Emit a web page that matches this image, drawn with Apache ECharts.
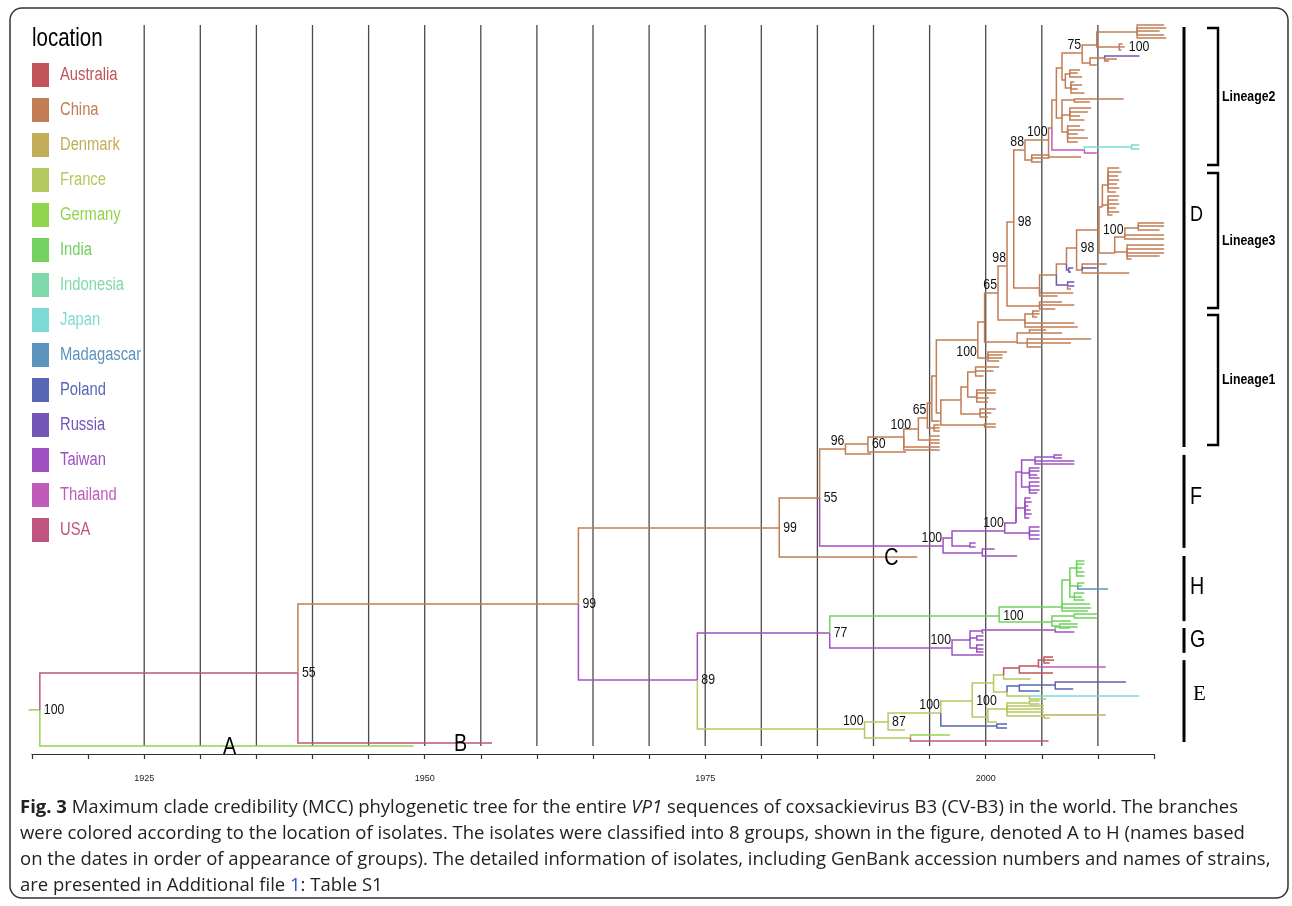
<!DOCTYPE html>
<html>
<head>
<meta charset="utf-8">
<title>MCC tree CV-B3 VP1</title>
<script src="https://cdn.jsdelivr.net/npm/echarts@6/dist/echarts.min.js"></script>
<style>
html,body{margin:0;padding:0;background:#fff}
#mccTree{width:1292px;height:906px}
</style>
</head>
<body>
<div id="mccTree"></div>
<script>
var SANS = "'Liberation Sans',Arial,sans-serif";
var NARROW_SCALE = 0.82; // the figure uses a narrow Arial-like face

// legend: location of isolates
var locations = ['Australia','China','Denmark','France','Germany','India','Indonesia','Japan','Madagascar','Poland','Russia','Taiwan','Thailand','USA'];
var locCodes  = ['AU','CN','DK','FR','DE','IN','ID','JP','MG','PL','RU','TW','TH','US'];
var locColors = ['#c1545a','#c27d56','#c3ad5b','#b4c95f','#91d54f','#72d15f','#7fd9ab','#7edad5','#5b94bd','#5767b6','#7356b5','#9f51c1','#bf5bb9','#bd557f'];

// time axis
var gridYears = [1925,1930,1935,1940,1945,1950,1955,1960,1965,1970,1975,1980,1985,1990,1995,2000,2005,2010];
var tickLabelYears = [1925,1950,1975,2000];

// tree nodes: [id, parent, year, row, location]  (row 0 = top tip)
var treeNodes = [
  ['pre', null, 1914.7, 228.3, 'DE'],
  ['root','pre', 1915.7, 228.3, 'DE'],
  ['tA','root', 1949.0, 240.3, 'DE'],
  ['n55a','root', 1938.7, 216, 'US'],
  ['tB','n55a', 1956.0, 239.3, 'US'],
  ['n99a','n55a', 1963.7, 193, 'CN'],
  ['n89','n99a', 1974.3, 218.3, 'TW'],
  ['n99b','n99a', 1981.6, 167.7, 'CN'],
  ['tC','n99b', 1993.9, 177.3, 'CN'],
  ['n55b','n99b', 1985.2, 157.7, 'CN'],
  ['F100','n55b', 1996.2, 173.7, 'TW'],
  ['n96','n55b', 1987.5, 141.3, 'CN'],
  ['n60','n96', 1989.5, 139.7, 'CN'],
  ['n100e','n60', 1992.7, 137.3, 'CN'],
  ['n119','n100e', 1994.0, 134.7, 'CN'],
  ['k1','n119', 1995.0, 138.3, 'CN'],
  ['n65a','n119', 1994.8, 131, 'CN'],
  ['k2','n65a', 1995.4, 134.3, 'CN'],
  ['nP','n65a', 1995.2, 126, 'CN'],
  ['nQ','nP', 1995.6, 117, 'CN'],
  ['nR','nQ', 1996.0, 129.3, 'CN'],
  ['nS','nR', 1997.8, 125, 'CN'],
  ['nV','nR', 1999.9, 133.3, 'CN'],
  ['nT','nS', 1998.4, 120.7, 'CN'],
  ['nW','nS', 1999.5, 129.7, 'CN'],
  ['nT1','nT', 1999.1, 115.7, 'CN'],
  ['nT2','nT', 1999.2, 124, 'CN'],
  ['nX','nQ', 1999.3, 105, 'CN'],
  ['nY','nX', 2000.2, 111, 'CN'],
  ['n985','nX', 1999.9, 99, 'CN'],
  ['nZ','n985', 2002.8, 105.7, 'CN'],
  ['nZ1','nZ', 2003.9, 102.7, 'CN'],
  ['nZ2','nZ', 2003.7, 106, 'CN'],
  ['n998','n985', 2001.1, 89.3, 'CN'],
  ['nM','n998', 2003.5, 98.3, 'CN'],
  ['nM1','nM', 2004.2, 96.3, 'CN'],
  ['n1008','n998', 2001.9, 80.3, 'CN'],
  ['nN','n1008', 2004.8, 93.7, 'CN'],
  ['n1014','n1008', 2002.5, 65.7, 'CN'],
  ['L3','n1014', 2004.8, 87.7, 'CN'],
  ['L3a','L3', 2006.3, 83.3, 'CN'],
  ['L3c','L3a', 2007.2, 79.7, 'CN'],
  ['RUa','L3c', 2007.4, 81.7, 'RU'],
  ['RUn','L3a', 2007.3, 86.7, 'RU'],
  ['n98d','L3c', 2008.1, 74.3, 'CN'],
  ['L3d','n98d', 2008.6, 81.7, 'CN'],
  ['n100g','n98d', 2010.1, 68.3, 'CN'],
  ['U','n100g', 2010.4, 60.7, 'CN'],
  ['U1','U', 2010.9, 53.3, 'CN'],
  ['U2','U', 2010.9, 60, 'CN'],
  ['V','n100g', 2011.5, 76, 'CN'],
  ['V1','V', 2012.4, 70.7, 'CN'],
  ['V3','V1', 2013.6, 67.7, 'CN'],
  ['V2','V', 2012.6, 75.7, 'CN'],
  ['n88','n1014', 2003.5, 41.7, 'CN'],
  ['n88b','n88', 2004.1, 45, 'CN'],
  ['n100h','n88', 2005.6, 38.3, 'CN'],
  ['L2a','n100h', 2005.9, 34.3, 'CN'],
  ['THn','L2a', 2008.8, 41.7, 'TH'],
  ['JPn','THn', 2013.0, 40.7, 'JP'],
  ['L2b','L2a', 2006.3, 25, 'CN'],
  ['L2c','L2b', 2006.8, 14.3, 'CN'],
  ['cA','L2c', 2007.1, 18.3, 'CN'],
  ['cA1','cA', 2007.5, 16.3, 'CN'],
  ['cA2','cA', 2007.6, 21, 'CN'],
  ['n75','L2c', 2008.6, 9.3, 'CN'],
  ['n97','n75', 2009.9, 6.7, 'CN'],
  ['top','n97', 2013.5, 2.3, 'CN'],
  ['sm','n97', 2011.9, 7.3, 'CN'],
  ['t100','sm', 2012.4, 7.3, 'CN'],
  ['n1090','n75', 2009.3, 12.7, 'CN'],
  ['n1105','n1090', 2010.6, 11, 'CN'],
  ['cB','L2b', 2006.8, 31, 'CN'],
  ['nb1','cB', 2007.9, 25, 'CN'],
  ['nb2','cB', 2007.5, 30, 'CN'],
  ['nb3','cB', 2007.3, 35.7, 'CN'],
  ['F1','F100', 1997.0, 171, 'TW'],
  ['F10','F100', 1999.7, 176, 'TW'],
  ['n100i','F1', 2001.7, 168.7, 'TW'],
  ['F9','F1', 1998.6, 173.7, 'TW'],
  ['F2','n100i', 2002.7, 166, 'TW'],
  ['F8','n100i', 2003.9, 169.3, 'TW'],
  ['F3','F2', 2003.2, 149, 'TW'],
  ['F7','F2', 2003.5, 161, 'TW'],
  ['F4','F3', 2004.4, 145, 'TW'],
  ['F4a','F4', 2006.1, 144, 'TW'],
  ['F5','F3', 2003.9, 149.3, 'TW'],
  ['F6','F3', 2003.9, 154, 'TW'],
  ['n77','n89', 1986.1, 202.7, 'TW'],
  ['H100','n77', 2001.2, 197, 'IN'],
  ['H1','H100', 2006.8, 194, 'IN'],
  ['H2','H1', 2007.5, 185, 'IN'],
  ['H3','H2', 2008.1, 181, 'IN'],
  ['H4','H2', 2008.2, 187, 'IN'],
  ['H5','H2', 2007.9, 190.7, 'IN'],
  ['H6','H100', 2005.9, 199, 'IN'],
  ['H7','H6', 2007.9, 197, 'IN'],
  ['H8','H6', 2006.6, 200.3, 'IN'],
  ['G100','n77', 1997.0, 207.7, 'TW'],
  ['G1','G100', 1998.6, 205, 'TW'],
  ['G2','G1', 1999.7, 202, 'TW'],
  ['G3','G2', 2006.2, 201.7, 'TW'],
  ['G4','G1', 1999.2, 204.3, 'TW'],
  ['G5','G1', 1999.2, 207.7, 'TW'],
  ['E100','n89', 1989.2, 234.7, 'FR'],
  ['n87','E100', 1991.3, 232.3, 'FR'],
  ['nE2','E100', 1993.3, 237.7, 'FR'],
  ['n100c','n87', 1996.0, 229.3, 'FR'],
  ['nPLb','n100c', 2001.0, 233.7, 'PL'],
  ['n100d','n100c', 1998.8, 225.3, 'FR'],
  ['nE3','n100d', 2000.7, 219.3, 'FR'],
  ['nE5','nE3', 2001.6, 216.7, 'FR'],
  ['nAU','nE5', 2003.0, 214.3, 'AU'],
  ['nAU2','nAU', 2004.7, 213.7, 'AU'],
  ['nAU3','nAU2', 2005.2, 211.7, 'AU'],
  ['nE6','nE3', 2001.9, 222.3, 'FR'],
  ['nPL','nE6', 2003.0, 220.3, 'PL'],
  ['nPL2','nPL', 2006.2, 220, 'PL'],
  ['nE7','nE6', 2003.9, 223.7, 'FR'],
  ['nE4','n100d', 2000.2, 230.7, 'FR'],
  ['nE8','nE4', 2001.9, 228, 'FR'],
  ['nE9','nE8', 2003.9, 226, 'FR'],
  ['nE10','nE8', 2005.2, 230.3, 'FR']
];

// tips: [parent, year, row, location (if different from parent)]
var treeTips = [
  ['n96',1989.8,143],['n60',1992.9,142.3],
  ['n100e',1995.9,140.7],['n100e',1995.9,141.7],
  ['k1',1995.9,137],['k1',1995.9,138.3],['k1',1995.9,139.3],
  ['k2',1995.9,133.3],['k2',1995.9,134.3],['k2',1995.9,135.3],
  ['nP',1995.9,132],
  ['nT1',2001.2,114],['nT1',2000.7,115.3],['nT1',1999.8,117],
  ['nT2',2000.9,121.7],['nT2',2000.9,122.7],['nT2',2000.3,124.3],['nT2',2000.2,125.7],
  ['nW',2000.9,128],['nW',2000.5,129.3],['nW',2000.2,130.7],
  ['nV',2000.9,133],['nV',2000.9,134],
  ['nY',2001.9,109],['nY',2001.5,110],['nY',2001.5,111],['nY',2001.2,112],
  ['nZ1',2005.4,101.7],['nZ1',2006.8,102.7],
  ['nZ2',2009.4,104.7],['nZ2',2007.6,106],['nZ2',2005.0,107.3],
  ['nM1',2004.8,95.3],['nM1',2004.8,96.3],['nM1',2004.6,97.3],
  ['nM',2007.9,99.3],['nM',2008.2,100.7],
  ['nN',2006.8,92.3],['nN',2007.9,93.3],['nN',2006.2,94.7],
  ['L3',2007.8,89.3],['L3',2006.4,90.3],
  ['RUa',2007.8,81],['RUa',2007.6,82.3],
  ['RUn',2007.9,85.7],['RUn',2007.9,87],['RUn',2007.6,88,'CN'],
  ['L3d',2010.8,79.7],['L3d',2009.9,81,'RU'],['L3d',2012.8,82.7],
  ['U1',2011.9,47.7],['U1',2012.1,49],['U1',2011.8,50.3],['U1',2011.9,51.7],['U1',2011.7,53],['U1',2011.9,54.3],['U1',2011.6,55.7],
  ['U2',2011.9,57],['U2',2011.8,58.3],['U2',2011.9,59.7],['U2',2011.6,61],['U2',2011.9,62.3],['U2',2011.3,63.3],
  ['V3',2015.9,66],['V3',2015.9,67],['V3',2015.5,68.3],
  ['V1',2015.9,70],['V1',2015.9,71.3],
  ['V2',2015.9,73.3],['V2',2015.9,74.7],['V2',2015.9,76],['V2',2015.5,77],['V2',2013.0,78],
  ['n88b',2005.7,43.3],['n88b',2005.7,44.3],['n88b',2005.1,45.7],
  ['n100h',2008.5,44],
  ['THn',2009.9,42.7],
  ['JPn',2013.7,40],['JPn',2013.7,41.3],
  ['cA1',2008.4,15],['cA1',2008.2,16],['cA1',2008.6,17.3],
  ['cA2',2007.9,19],['cA2',2008.6,20],['cA2',2008.2,21.3],['cA2',2008.8,22.7],
  ['top',2015.9,0],['top',2016.1,1],['top',2015.5,2],['top',2015.9,3.3],['top',2016.1,4.3],
  ['sm',2012.2,6.3],['sm',2012.1,8.3],
  ['n1090',2009.9,13.3],
  ['n1105',2013.7,10.3,'RU'],['n1105',2011.7,11.3],['n1105',2011.0,12],
  ['nb1',2012.3,24.7],['nb1',2009.3,25.7],
  ['nb2',2009.4,27.7],['nb2',2009.1,29],['nb2',2008.4,30.3],['nb2',2008.8,31.7],
  ['nb3',2008.4,33.7],['nb3',2008.8,35],['nb3',2008.2,36.3],['nb3',2009.1,37.7],['nb3',2008.2,39],
  ['F10',2000.8,174.7],['F10',2002.8,177],
  ['F9',1999.1,172.7],['F9',1999.1,174],
  ['F8',2004.8,167.3],['F8',2004.8,168.7],['F8',2004.8,170],['F8',2004.8,171.3],
  ['F7',2004.0,157.7],['F7',2004.1,159],['F7',2003.8,160.3],['F7',2004.0,161.7],['F7',2004.1,163],['F7',2003.9,164.3],
  ['F4a',2006.8,143.3],['F4a',2006.8,144.3],
  ['F4',2007.9,145.3],['F4',2007.9,146.3],
  ['F5',2004.8,147.7],['F5',2004.8,148.7],['F5',2004.6,150],['F5',2004.8,151],
  ['F6',2004.8,152.3],['F6',2004.8,153.7],['F6',2004.8,155],['F6',2004.6,156],
  ['H1',2009.3,193],['H1',2009.4,194.3],['H1',2009.1,195.3],
  ['H3',2008.8,178.7],['H3',2008.8,179.7],['H3',2008.6,181],['H3',2008.8,182.3],['H3',2008.8,183.7],
  ['H4',2008.8,186],['H4',2008.6,187],['H4',2010.9,188,'MG'],
  ['H5',2008.8,189.3],['H5',2008.6,190.7],['H5',2008.8,191.7],
  ['H6',2007.6,198.7],
  ['H7',2009.9,196.3],['H7',2009.9,197.7],
  ['H8',2008.2,199.7],['H8',2007.5,201],
  ['G3',2008.2,200.7,'IN'],['G3',2007.9,202.3],
  ['G2',1999.8,202.7],
  ['G4',1999.8,203.7],['G4',1999.8,205],
  ['G5',1999.8,206.7],['G5',1999.8,208],['G5',1999.8,209],
  ['G100',1999.8,210],
  ['nE2',1996.8,236.7,'DE'],['nE2',2005.6,238.7,'US'],
  ['n87',1992.8,235],
  ['nPLb',2001.9,233],['nPLb',2001.9,234.3],
  ['nE5',2004.0,218],
  ['nAU',2006.0,216],
  ['nAU2',2010.7,214,'TH'],
  ['nAU3',2006.0,210.7],['nAU3',2006.1,211.7],['nAU3',2005.7,212.7],
  ['nPL',2004.8,222],
  ['nPL2',2012.5,219,'RU'],['nPL2',2007.8,221.3],
  ['nE7',2013.7,223.7,'JP'],['nE7',2005.4,224.7],
  ['nE4',2001.0,232.3],
  ['nE9',2004.8,225.3],['nE9',2004.8,226.3],
  ['nE8',2005.2,227],['nE8',2005.2,228],['nE8',2005.2,229],
  ['nE10',2010.7,230,'DK'],['nE10',2005.7,231]
];

// posterior support labels: [node, text, placement]
var nodeLabels = [
  ['root','100','r'],['n55a','55','r'],['n99a','99','r'],['n89','89','r'],
  ['n99b','99','r'],['n55b','55','r'],['n96','96','la'],['n60','60','r'],
  ['n100e','100','ca'],['n65a','65','la'],['nX','100','lb'],['n998','65','la'],
  ['n1008','98','la'],['n1014','98','r'],['n88','88','la'],['n100h','100','la'],
  ['n75','75','la'],['t100','100','r'],['n98d','98','r'],['n100g','100','r'],
  ['F100','100','la'],['n100i','100','la'],['n77','77','r'],['H100','100','r'],
  ['G100','100','la'],['E100','100','la'],['n87','87','r'],['n100c','100','la'],
  ['n100d','100','r']
];

// groups (rows)
var groupNames  = ['D','F','H','G','E'];
var groupTop    = [0.7, 143.3, 177, 201, 211.7];
var groupBottom = [140.7, 174.3, 198.7, 209.3, 239];
var groupLetterRow = [63.3, 157.3, 187.3, 205, 223.3];
var lineageNames  = ['Lineage2','Lineage3','Lineage1'];
var lineageTop    = [1, 49.3, 96.7];
var lineageBottom = [46.7, 94.3, 140];

var cladeLetters    = ['A','B','C'];
var cladeLetterYear = [1932.6, 1953.2, 1991.6];
var cladeLetterTip  = ['tA','tB','tC'];

var captionLines = [
  '{b|Fig. 3} Maximum clade credibility (MCC) phylogenetic tree for the entire {i|VP1} sequences of coxsackievirus B3 (CV-B3) in the world. The branches',
  'were colored according to the location of isolates. The isolates were classified into 8 groups, shown in the figure, denoted A to H (names based',
  'on the dates in order of appearance of groups). The detailed information of isolates, including GenBank accession numbers and names of strains,',
  'are presented in Additional file {l|1}: Table S1'
];

// ---- build tree tables ----
var nodeById = {};
var allNodes = [];
treeNodes.forEach(function (n) {
  var o = {id: n[0], parent: n[1], year: n[2], row: n[3], loc: n[4]};
  nodeById[o.id] = o;
  allNodes.push(o);
});
treeTips.forEach(function (t, i) {
  var o = {id: 'tip' + i, parent: t[0], year: t[1], row: t[2], loc: t[3] || nodeById[t[0]].loc};
  nodeById[o.id] = o;
  allNodes.push(o);
});

var branchData = [];
allNodes.forEach(function (n) {
  if (!n.parent) return;
  var p = nodeById[n.parent];
  branchData.push([n.year, n.row, p.year, p.row, locCodes.indexOf(n.loc)]);
});

var labelRecs = nodeLabels.map(function (l) {
  var n = nodeById[l[0]];
  return {year: n.year, row: n.row, text: l[1], mode: l[2]};
});

function narrowText(x, y, text, font, fill, align, va) {
  return {type: 'text', x: x, y: y, scaleX: NARROW_SCALE, silent: true, style: {
    text: text, font: font, fill: fill, align: align, verticalAlign: va,
    textAlign: align, textVerticalAlign: va}};
}

// legend drawn from the location arrays
var legendGraphics = [narrowText(32, 39, 'location', '25px ' + SANS, '#000', 'left', 'middle')];
locations.forEach(function (name, i) {
  legendGraphics.push({type: 'rect', silent: true, shape: {x: 32, y: 63 + i * 35, width: 17, height: 24},
    style: {fill: locColors[i]}});
  legendGraphics.push(narrowText(60, 75 + i * 35, name, '18px ' + SANS, locColors[i], 'left', 'middle'));
});

var chart = echarts.init(document.getElementById('mccTree'));

var option = {
  animation: false,
  backgroundColor: '#fff',
  grid: {left: 32, right: 138, top: 25, bottom: 161},
  xAxis: {
    type: 'value', min: 1915, max: 2015, interval: 5, offset: 9,
    axisLine: {onZero: false, lineStyle: {color: '#333', width: 1.2}},
    axisTick: {length: 5, lineStyle: {color: '#333', width: 1.2}},
    splitLine: {show: false},
    axisLabel: {
      margin: 20, fontSize: 9, fontFamily: SANS, color: '#222',
      formatter: function (v) { return tickLabelYears.indexOf(v) >= 0 ? String(v) : ''; }
    }
  },
  yAxis: {type: 'value', min: 0, max: 240, inverse: true, show: false},
  series: [
    {
      type: 'custom', name: 'grid', silent: true, z: 1,
      data: gridYears.map(function (y) { return [y]; }),
      renderItem: function (params, api) {
        var a = api.coord([api.value(0), 0]);
        var b = api.coord([api.value(0), 240]);
        return {type: 'line', shape: {x1: a[0], y1: a[1], x2: b[0], y2: b[1] + 1},
          style: {stroke: '#4a4a4a', lineWidth: 1.3}};
      }
    },
    {
      type: 'custom', name: 'branches', silent: true, z: 3,
      data: branchData,
      encode: {x: [0, 2], y: [1, 3]},
      renderItem: function (params, api) {
        var p = api.coord([api.value(0), api.value(1)]);
        var q = api.coord([api.value(2), api.value(3)]);
        return {
          type: 'polyline',
          shape: {points: [[q[0], q[1]], [q[0], p[1]], [p[0], p[1]]]},
          style: {fill: null, stroke: locColors[api.value(4)], lineWidth: 1.5}
        };
      }
    },
    {
      type: 'custom', name: 'support', silent: true, z: 4,
      data: labelRecs.map(function (l) { return [l.year, l.row]; }),
      renderItem: function (params, api) {
        var lab = labelRecs[params.dataIndex];
        var p = api.coord([api.value(0), api.value(1)]);
        var x = p[0], y = p[1], align = 'left', va = 'middle';
        if (lab.mode === 'r') { x += 4; }
        else if (lab.mode === 'la') { x -= 1; y -= 1; align = 'right'; va = 'bottom'; }
        else if (lab.mode === 'lb') { x -= 1; y += 4; align = 'right'; va = 'top'; }
        else if (lab.mode === 'ca') { x -= 3; y -= 5; align = 'center'; va = 'bottom'; }
        return narrowText(x, y, lab.text, '15px ' + SANS, '#111', align, va);
      }
    },
    {
      type: 'custom', name: 'cladeLetters', silent: true, z: 4,
      data: cladeLetters.map(function (t, i) { return [cladeLetterYear[i], nodeById[cladeLetterTip[i]].row]; }),
      renderItem: function (params, api) {
        var p = api.coord([api.value(0), api.value(1)]);
        return narrowText(p[0], p[1] + 1, cladeLetters[params.dataIndex], '24px ' + SANS, '#000', 'center', 'middle');
      }
    },
    {
      type: 'custom', name: 'groups', silent: true, z: 4,
      data: groupNames.map(function (g, i) { return [groupTop[i], groupBottom[i], groupLetterRow[i]]; }),
      renderItem: function (params, api) {
        var a = api.coord([2015, api.value(0)]);
        var b = api.coord([2015, api.value(1)]);
        var c = api.coord([2015, api.value(2)]);
        var bx = a[0] + 30;
        var name = groupNames[params.dataIndex];
        var letter = name === 'E'
          ? {type: 'text', x: bx + 9, y: c[1], silent: true, style: {text: name, font: "21px 'Liberation Serif',serif",
              fill: '#000', align: 'left', verticalAlign: 'middle', textAlign: 'left', textVerticalAlign: 'middle'}}
          : narrowText(bx + 6, c[1], name, (name === 'D' ? '22px ' : '24px ') + SANS, '#000', 'left', 'middle');
        return {type: 'group', children: [
          {type: 'line', shape: {x1: bx, y1: a[1], x2: bx, y2: b[1]}, style: {stroke: '#000', lineWidth: 3}},
          letter
        ]};
      }
    },
    {
      type: 'custom', name: 'lineages', silent: true, z: 4,
      data: lineageNames.map(function (g, i) { return [lineageTop[i], lineageBottom[i]]; }),
      renderItem: function (params, api) {
        var a = api.coord([2015, api.value(0)]);
        var b = api.coord([2015, api.value(1)]);
        var vx = a[0] + 64, tx = a[0] + 53;
        return {type: 'group', children: [
          {type: 'polyline', shape: {points: [[tx, a[1]], [vx, a[1]], [vx, b[1]], [tx, b[1]]]},
            style: {fill: null, stroke: '#000', lineWidth: 2.5}},
          narrowText(vx + 4, (a[1] + b[1]) / 2, lineageNames[params.dataIndex], 'bold 15px ' + SANS, '#000', 'left', 'middle')
        ]};
      }
    }
  ],
  graphic: [
    {type: 'rect', silent: true, shape: {x: 10, y: 8, width: 1278, height: 890, r: 12},
      style: {fill: null, stroke: '#333', lineWidth: 1.5}, z: 0}
  ].concat(legendGraphics).concat(captionLines.map(function (line, i) {
    return {type: 'text', silent: true, x: 20, y: 808 + i * 26, style: {
      text: line, verticalAlign: 'middle', textVerticalAlign: 'middle',
      font: "18.5px 'Open Sans',sans-serif", fill: '#222',
      rich: {
        b: {fontWeight: 'bold', fontSize: 18.5, fontFamily: 'Open Sans', fill: '#222'},
        i: {fontStyle: 'italic', fontSize: 18.5, fontFamily: 'Open Sans', fill: '#222'},
        l: {fontSize: 18.5, fontFamily: 'Open Sans', fill: '#2a58c8'}
      }}};
  }))
};

chart.setOption(option);
</script>
</body>
</html>
